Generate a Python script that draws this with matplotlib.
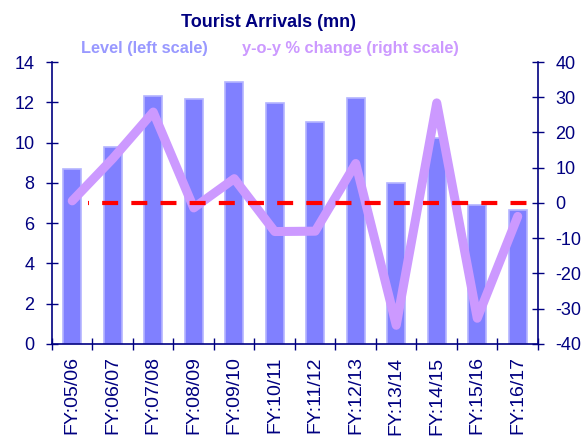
import matplotlib
matplotlib.use("Agg")
import matplotlib.pyplot as plt

plt.rcParams['font.family'] = ['Liberation Sans', 'DejaVu Sans']
plt.rcParams['lines.scale_dashes'] = False
plt.rcParams['axes.unicode_minus'] = False

categories = ["FY:05/06", "FY:06/07", "FY:07/08", "FY:08/09", "FY:09/10", "FY:10/11",
              "FY:11/12", "FY:12/13", "FY:13/14", "FY:14/15", "FY:15/16", "FY:16/17"]
arrivals_mn = [8.7, 9.8, 12.33, 12.16, 13.0, 11.95, 11.0, 12.23, 7.98, 10.25, 6.9, 6.64]
yoy_pct = [0.6, 12.6, 25.8, -1.4, 6.9, -8.1, -8.0, 11.2, -34.7, 28.4, -32.7, -3.8]
left_ticks = [0, 2, 4, 6, 8, 10, 12, 14]
right_ticks = [-40, -30, -20, -10, 0, 10, 20, 30, 40]

navy = "#000080"
bar_color = "#8080FF"
bar_edge = "#B4B4FF"
line_color = "#CC99FF"

fig = plt.figure(figsize=(5.82, 4.41), dpi=100)
ax = fig.add_axes([0.0893, 0.22, 0.8351, 0.6394])
ax2 = ax.twinx()

x = list(range(len(categories)))
ax.bar(x, arrivals_mn, width=0.45, color=bar_color, edgecolor=bar_edge, linewidth=1.2, zorder=2)
ax.set_xlim(-0.5, len(categories) - 0.5)
ax.set_ylim(0, 14)
ax.set_yticks(left_ticks)

ax2.plot(x, yoy_pct, color=line_color, linewidth=6.5, solid_capstyle='round',
         solid_joinstyle='round', zorder=3)
ax2.plot([0.38, 11.23], [0, 0], color="#FF0000", linewidth=3,
         linestyle=(10.8, (11.5, 9.5)), dash_capstyle='butt', zorder=4)
ax2.set_ylim(-40, 40)
ax2.set_yticks(right_ticks)
ax2.set_xlim(-0.5, len(categories) - 0.5)

# category ticks sit on the boundaries between bars
ax.set_xticks([i - 0.5 for i in range(len(categories) + 1)], minor=False)
ax.set_xticklabels([""] * (len(categories) + 1))
ax.set_xticks(x, minor=True)
ax.set_xticklabels(categories, minor=True, rotation=90, fontsize=14, color=navy)
ax.tick_params(axis='x', which='minor', length=0, pad=9)
ax.tick_params(axis='x', which='major', direction='inout', length=9, width=1, color=navy)

ax.tick_params(axis='y', direction='inout', length=9, width=1, color=navy,
               labelcolor=navy, labelsize=13, pad=8)
ax2.tick_params(axis='y', direction='inout', length=9, width=1, color=navy,
                labelcolor=navy, labelsize=13, pad=8)

for a in (ax, ax2):
    a.spines["top"].set_visible(False)
    for side in ("left", "right", "bottom"):
        a.spines[side].set_color(navy)
        a.spines[side].set_linewidth(1.2)
ax.spines["right"].set_visible(False)
ax2.spines["left"].set_visible(False)
ax2.spines["bottom"].set_visible(False)

fig.text(0.462, 0.948, "Tourist Arrivals (mn)", ha='center', va='center',
         fontsize=13, fontweight='bold', color=navy)
fig.text(0.139, 0.889, "Level (left scale)", ha='left', va='center',
         fontsize=11.8, fontweight='bold', color="#9999FF")
fig.text(0.416, 0.889, "y-o-y % change (right scale)", ha='left', va='center',
         fontsize=11.8, fontweight='bold', color=line_color)

fig.savefig("out.png", dpi=100)
